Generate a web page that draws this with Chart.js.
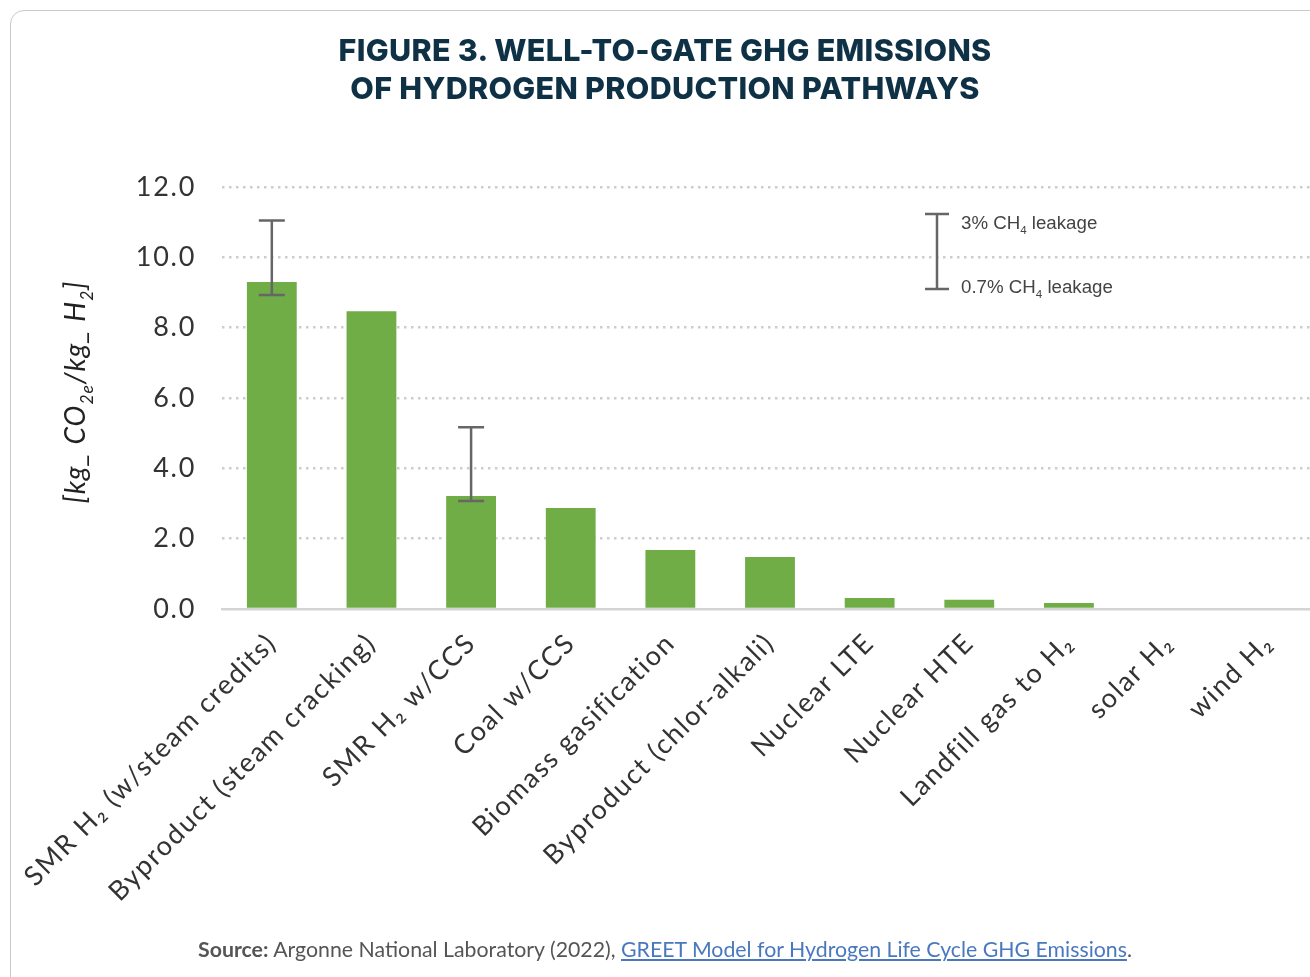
<!DOCTYPE html>
<html>
<head>
<meta charset="utf-8">
<script src="https://cdn.jsdelivr.net/npm/chart.js@4"></script>
<style>
  html, body { margin: 0; padding: 0; background: #fff; overflow: hidden; }
  #wrap { position: relative; width: 1310px; height: 977px; overflow: hidden; }
  #card { position: absolute; left: 10px; top: 10px; width: 1330px; height: 1000px;
          border: 1px solid #c9c9c9; border-radius: 14px; }
  #title { position: absolute; left: 0; width: 1330px; top: 31px; text-align: center;
           font-family: Inter, sans-serif; font-weight: 800; font-size: 30.5px; line-height: 38px;
           color: #0f3145; letter-spacing: 0.3px; }
  #source { position: absolute; left: 0; width: 1330px; top: 936px; text-align: center;
            font-family: Lato, sans-serif; font-size: 21.3px; color: #555; }
  #source b { color: #555; }
  #source a { color: #4a78bf; text-decoration: underline; }
  canvas { position: absolute; left: 0; top: 0; }
</style>
</head>
<body>
<div id="wrap">
  <div id="card"></div>
  <canvas id="chart" width="1330" height="977"></canvas>
  <div id="title">FIGURE 3. WELL-TO-GATE GHG EMISSIONS<br>OF HYDROGEN PRODUCTION PATHWAYS</div>
  <div id="source"><b>Source:</b> Argonne National Laboratory (2022), <a>GREET Model for Hydrogen Life Cycle GHG Emissions</a>.</div>
</div>
<script>
"use strict";

var categories = ["SMR H\u2082 (w/steam credits)", "Byproduct (steam cracking)", "SMR H\u2082 w/CCS",
  "Coal w/CCS", "Biomass gasification", "Byproduct (chlor-alkali)", "Nuclear LTE", "Nuclear HTE",
  "Landfill gas to H\u2082", "solar H\u2082", "wind H\u2082"];
var emissions = [9.30, 8.47, 3.21, 2.87, 1.68, 1.48, 0.31, 0.26, 0.17, 0, 0];
var errHigh = [11.05, null, 5.17, null, null, null, null, null, null, null, null];
var errLow = [8.93, null, 3.07, null, null, null, null, null, null, null, null];
var yTicks = [0, 2, 4, 6, 8, 10, 12];

var tickFont = { family: "Lato, 'Open Sans', sans-serif", size: 27 };

// draw text made of runs, some of them subscript
function drawRuns(ctx, runs, x, y, size, font) {
  runs.forEach(function(r) {
    var s = r.sub ? size * 0.62 : size;
    ctx.font = font.replace("SIZE", s + "px");
    ctx.fillText(r.t, x, r.sub ? y + size * 0.28 : y);
    x += ctx.measureText(r.t).width;
  });
  return x;
}

// the source picture is a bit stretched sideways, so space the letters out
var spacing = {
  id: "spacing",
  beforeUpdate: function(chart) { chart.ctx.letterSpacing = "1.7px"; },
  beforeDraw: function(chart) { chart.ctx.letterSpacing = "1.7px"; }
};

var errorBars = {
  id: "errorBars",
  afterDatasetsDraw: function(chart) {
    var ctx = chart.ctx;
    var xs = chart.scales.x, ys = chart.scales.y;
    ctx.save();
    ctx.strokeStyle = "#666";
    ctx.lineWidth = 2.5;
    errHigh.forEach(function(hi, i) {
      if (hi == null) return;
      var x = xs.getPixelForValue(i);
      var yh = ys.getPixelForValue(hi), yl = ys.getPixelForValue(errLow[i]);
      ctx.beginPath();
      ctx.moveTo(x, yh); ctx.lineTo(x, yl);
      ctx.moveTo(x - 13, yh); ctx.lineTo(x + 13, yh);
      ctx.moveTo(x - 13, yl); ctx.lineTo(x + 13, yl);
      ctx.stroke();
    });
    ctx.restore();
  },
  afterDraw: function(chart) {
    var ctx = chart.ctx;
    ctx.save();
    ctx.letterSpacing = "0px";
    // legend for the error bars
    ctx.strokeStyle = "#666";
    ctx.lineWidth = 2.5;
    ctx.beginPath();
    ctx.moveTo(937, 214); ctx.lineTo(937, 289);
    ctx.moveTo(925, 214); ctx.lineTo(949, 214);
    ctx.moveTo(925, 289); ctx.lineTo(949, 289);
    ctx.stroke();
    ctx.fillStyle = "#444";
    ctx.textBaseline = "alphabetic";
    var f = "SIZE Arial, 'Liberation Sans', sans-serif";
    drawRuns(ctx, [{ t: "3% CH" }, { t: "4", sub: true }, { t: " leakage" }], 961, 229, 18.7, f);
    drawRuns(ctx, [{ t: "0.7% CH" }, { t: "4", sub: true }, { t: " leakage" }], 961, 293, 18.7, f);

    // y axis title with subscripts
    ctx.letterSpacing = "1px";
    ctx.translate(85, 392);
    ctx.rotate(-Math.PI / 2);
    ctx.fillStyle = "#222";
    var tf = "italic SIZE Lato, 'Open Sans', sans-serif";
    var runs = [{ t: "[kg_ CO" }, { t: "2e", sub: true }, { t: "/kg_ H" }, { t: "2", sub: true }, { t: "]" }];
    var w = 0;
    runs.forEach(function(r) {
      ctx.font = tf.replace("SIZE", (r.sub ? 28 * 0.62 : 28) + "px");
      w += ctx.measureText(r.t).width;
    });
    drawRuns(ctx, runs, -w / 2, 0, 28, tf);
    ctx.restore();
  }
};

new Chart(document.getElementById("chart"), {
  type: "bar",
  data: {
    labels: categories,
    datasets: [{
      data: emissions,
      backgroundColor: "#70ad47",
      barPercentage: 0.5,
      categoryPercentage: 1
    }]
  },
  options: {
    responsive: false,
    animation: false,
    events: [],
    layout: { padding: { top: 187, right: 12, left: 0, bottom: 0 } },
    plugins: { legend: { display: false }, tooltip: { enabled: false } },
    scales: {
      x: {
        grid: { display: false },
        border: { display: true, color: "#d4d4d4", width: 2.5 },
        ticks: {
          color: "#333", font: tickFont, autoSkip: false,
          minRotation: 45, maxRotation: 45, padding: 10
        },
        afterFit: function(s) { s.height = 368; }
      },
      y: {
        min: 0, max: 12,
        afterBuildTicks: function(s) { s.ticks = yTicks.map(function(v) { return { value: v }; }); },
        grid: {
          drawTicks: false, lineWidth: 2.5,
          color: function(c) { return c.tick && c.tick.value === 0 ? "rgba(0,0,0,0)" : "#cdcdcd"; }
        },
        border: { display: false, dash: [2.5, 4.5] },
        ticks: {
          color: "#333", font: tickFont, padding: 26,
          callback: function(v) { return v.toFixed(1); }
        },
        afterFit: function(s) { s.width = 222; }
      }
    }
  },
  plugins: [spacing, errorBars]
});
</script>
</body>
</html>
